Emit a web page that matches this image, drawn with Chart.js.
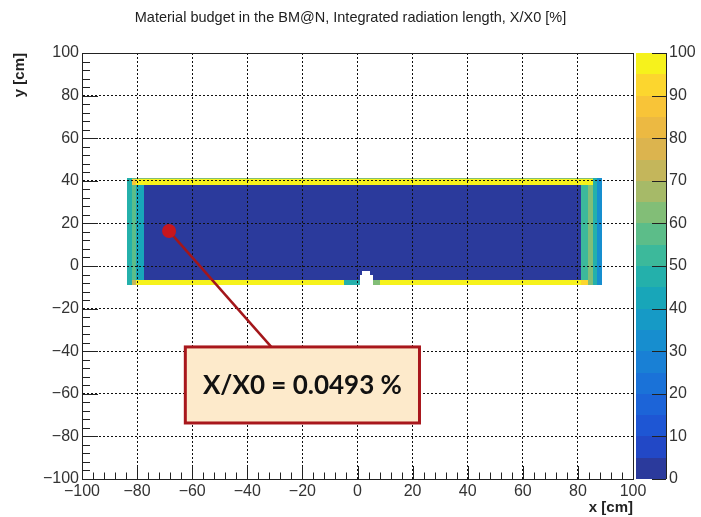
<!DOCTYPE html>
<html lang="en">
<head>
  <meta charset="UTF-8" />
  <title>Material budget in the BM@N</title>
  <script src="https://cdn.jsdelivr.net/npm/chart.js"></script>
  <style>
    html, body { margin: 0; padding: 0; background: #fff; }
  </style>
</head>
<body>
  <canvas id="budgetChart" width="701" height="517"></canvas>

  <script>
    // bin edges of the 2D histogram, in cm
    const xEdges = [-83.6, -81.8, -80.5, -77.5, -5, 0.8, 1.5, 4.7, 5.5, 8, 81.3, 83.8, 85.6, 86.8, 88.6];
    const yEdges = [-9, -6.6, -4, -2.3, 38, 40.8, 41.3];

    // X/X0 [%] in every cell, rows from bottom to top, null = no material (the beam pipe notch)
    const radLength = [
      [45, 70, 98, 98, 45, null, null, null, 60, 98, 90, 62, 45, 32],
      [45, 57, 42, 0.0493, 0.0493, null, null, null, 0.0493, 0.0493, 50, 62, 45, 32],
      [45, 57, 42, 0.0493, 0.0493, 0.0493, null, 0.0493, 0.0493, 0.0493, 50, 62, 45, 32],
      [45, 57, 42, 0.0493, 0.0493, 0.0493, 0.0493, 0.0493, 0.0493, 0.0493, 50, 62, 45, 32],
      [45, 85, 98, 98, 98, 98, 98, 98, 98, 98, 98, 95, 45, 32],
      [45, 57, 60, 60, 60, 60, 60, 60, 60, 60, 60, 60, 45, 32]
    ];

    const axisTicks = [-100, -80, -60, -40, -20, 0, 20, 40, 60, 80, 100];
    const paletteTicks = [0, 10, 20, 30, 40, 50, 60, 70, 80, 90, 100];

    // the marked point and where its pointer meets the label box
    const markerX = [-68.4, -31.3];
    const markerY = [16.4, -38];
    const markerText = 'X/X0 = 0.0493 %';

    // ROOT "bird" palette, 20 contour levels from 0 to 100
    const bandColors = [
      '#2b3a9c', '#2248c6', '#1e56d4', '#1c64d8', '#1a72d8',
      '#1980d5', '#178ecf', '#169ac6', '#18a6b9', '#24b0ab',
      '#3cb99b', '#5cbd89', '#82be77', '#a6ba68', '#c4b65b',
      '#dcb44e', '#ecb942', '#f8c438', '#fcd62e', '#f6f21c'
    ];
    const zMin = 0, zMax = 100;

    function colorFor(v) {
      const i = Math.min(bandColors.length - 1, Math.floor((v - zMin) / (zMax - zMin) * bandColors.length));
      return bandColors[Math.max(0, i)];
    }

    const labelBox = { x0: -62.5, x1: 22.5, y0: -38, y1: -73.7 };

    const minus = v => String(v).replace('-', '\u2212');

    // cells go under the grid, so draw them before the scales
    const histPlugin = {
      id: 'hist2d',
      beforeDraw(chart) {
        const { ctx, scales: { x, y } } = chart;
        ctx.save();
        for (let r = 0; r < radLength.length; r++) {
          for (let c = 0; c < radLength[r].length; c++) {
            const v = radLength[r][c];
            if (v === null) continue;
            const px0 = Math.round(x.getPixelForValue(xEdges[c]));
            const px1 = Math.round(x.getPixelForValue(xEdges[c + 1]));
            const py0 = Math.round(y.getPixelForValue(yEdges[r]));
            const py1 = Math.round(y.getPixelForValue(yEdges[r + 1]));
            ctx.fillStyle = colorFor(v);
            ctx.fillRect(px0, py1, px1 - px0, py0 - py1);
          }
        }
        ctx.restore();
      },
      afterDatasetsDraw(chart) {
        // the label box with the value
        const { ctx, scales: { x, y } } = chart;
        const bx0 = x.getPixelForValue(labelBox.x0), bx1 = x.getPixelForValue(labelBox.x1);
        const by0 = y.getPixelForValue(labelBox.y0), by1 = y.getPixelForValue(labelBox.y1);
        ctx.save();
        ctx.fillStyle = '#fdeacb';
        ctx.strokeStyle = '#a8171c';
        ctx.lineWidth = 3;
        ctx.fillRect(bx0, by0, bx1 - bx0, by1 - by0);
        ctx.strokeRect(bx0, by0, bx1 - bx0, by1 - by0);
        ctx.fillStyle = '#111';
        ctx.font = 'bold 26px Lato';
        ctx.textAlign = 'center';
        ctx.textBaseline = 'middle';
        ctx.fillText(markerText, (bx0 + bx1) / 2, (by0 + by1) / 2 + 1);
        ctx.restore();
      },
      afterDraw(chart) {
        const { ctx, chartArea: a, scales: { x, y, z } } = chart;
        ctx.save();
        // frame and inward ticks, 5 minor divisions per major one
        ctx.strokeStyle = '#222';
        ctx.lineWidth = 1;
        ctx.beginPath();
        for (let v = -100; v <= 100; v += 4) {
          const major = v % 20 === 0;
          const px = Math.round(x.getPixelForValue(v)) + 0.5;
          ctx.moveTo(px, a.bottom);
          ctx.lineTo(px, a.bottom - (major ? 13 : 6.5));
          const py = Math.round(y.getPixelForValue(v)) + 0.5;
          ctx.moveTo(a.left, py);
          ctx.lineTo(a.left + (major ? 16 : 8), py);
        }
        ctx.stroke();
        ctx.strokeRect(Math.round(a.left) + 0.5, Math.round(a.top) + 0.5,
          Math.round(a.right - a.left), Math.round(a.bottom - a.top));

        // palette
        const cx0 = Math.round(a.right) + 3, cx1 = cx0 + 30;
        const step = (zMax - zMin) / bandColors.length;
        for (let i = 0; i < bandColors.length; i++) {
          const p0 = Math.round(z.getPixelForValue(zMin + i * step));
          const p1 = Math.round(z.getPixelForValue(zMin + (i + 1) * step));
          ctx.fillStyle = bandColors[i];
          ctx.fillRect(cx0, p1, cx1 - cx0, p0 - p1);
        }
        ctx.beginPath();
        ctx.moveTo(cx1 + 0.5, z.getPixelForValue(zMin));
        ctx.lineTo(cx1 + 0.5, z.getPixelForValue(zMax));
        paletteTicks.forEach(t => {
          const py = Math.round(z.getPixelForValue(t)) + 0.5;
          ctx.moveTo(cx1, py);
          ctx.lineTo(cx1 - 14, py);
        });
        ctx.stroke();
        ctx.restore();
      }
    };

    const tickFont = { family: "'Liberation Sans', Arial, sans-serif", size: 16 };
    const titleFont = { family: "'Liberation Sans', Arial, sans-serif", size: 15, weight: 'bold' };

    new Chart(document.getElementById('budgetChart'), {
      type: 'scatter',
      data: {
        datasets: [{
          label: 'marker',
          data: markerX.map((v, i) => ({ x: v, y: markerY[i] })),
          showLine: true,
          borderColor: '#a3161a',
          borderWidth: 2.5,
          pointRadius: [7, 0],
          pointHoverRadius: [7, 0],
          pointBackgroundColor: '#c8161e',
          pointBorderWidth: 0
        }]
      },
      options: {
        responsive: false,
        animation: false,
        devicePixelRatio: 1,
        layout: { padding: 0 },
        plugins: {
          legend: { display: false },
          tooltip: { enabled: false },
          title: {
            display: true,
            text: 'Material budget in the BM@N, Integrated radiation length, X/X0 [%]',
            color: '#222',
            font: { family: "'Liberation Sans', Arial, sans-serif", size: 14.5, weight: 'normal' },
            padding: { top: 9, bottom: 26.6 }
          }
        },
        scales: {
          x: {
            type: 'linear',
            min: -100, max: 100,
            afterBuildTicks: s => { s.ticks = axisTicks.map(v => ({ value: v })); },
            afterFit: s => { s.height = 38; },
            ticks: { font: tickFont, color: '#333', padding: 3, maxRotation: 0, autoSkip: false, callback: minus },
            grid: { color: '#111', lineWidth: 1, drawTicks: false },
            border: { color: '#222', dash: [2, 2] },
            title: { display: true, text: 'x [cm]', align: 'end', color: '#222', font: titleFont, padding: { top: 0, bottom: 0 } }
          },
          y: {
            type: 'linear',
            min: -100, max: 100,
            afterBuildTicks: s => { s.ticks = axisTicks.map(v => ({ value: v })); },
            afterFit: s => { s.width = 82; s.paddingTop = 0; s.paddingBottom = 0; },
            ticks: { font: tickFont, color: '#333', padding: 3, autoSkip: false, callback: minus },
            grid: { color: '#111', lineWidth: 1, drawTicks: false },
            border: { color: '#222', dash: [2, 2] },
            title: { display: true, text: 'y [cm]', align: 'end', color: '#222', font: titleFont, padding: { top: 11, bottom: 0 } }
          },
          z: {
            type: 'linear',
            position: 'right',
            min: zMin, max: zMax,
            afterBuildTicks: s => { s.ticks = paletteTicks.map(v => ({ value: v })); },
            // the wide label padding must not push the plot area in from top and bottom
            afterFit: s => { s.width = 68; s.paddingTop = 0; s.paddingBottom = 0; },
            ticks: { font: tickFont, color: '#333', padding: 36, autoSkip: false },
            grid: { display: false, drawTicks: false },
            border: { display: false }
          }
        }
      },
      plugins: [histPlugin]
    });
  </script>
</body>
</html>
